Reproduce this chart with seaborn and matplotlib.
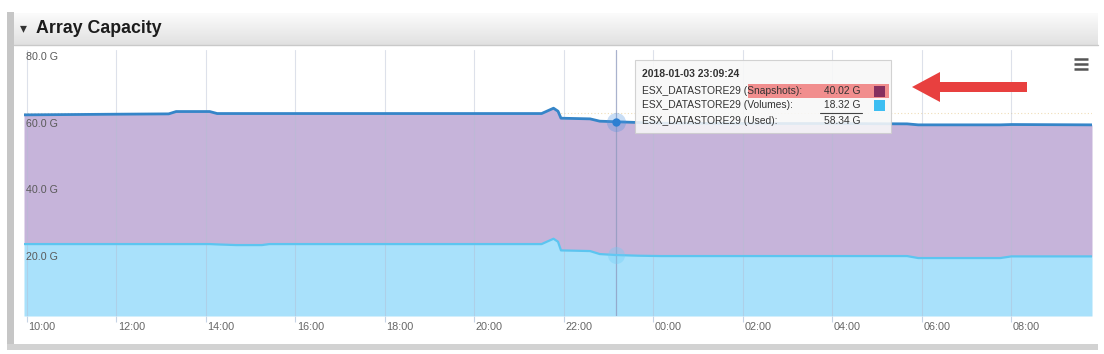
import numpy as np
import pandas as pd
import matplotlib
matplotlib.use("Agg")
import matplotlib.pyplot as plt
import matplotlib.dates as mdates
import matplotlib.transforms as mtransforms
from matplotlib.patches import Rectangle, FancyArrow
from matplotlib.colors import LinearSegmentedColormap
import seaborn as sns

# ---------------- data ----------------
times = [
    "2018-01-03 09:56", "2018-01-03 11:00", "2018-01-03 12:00", "2018-01-03 13:10",
    "2018-01-03 13:20", "2018-01-03 14:05", "2018-01-03 14:15", "2018-01-03 14:40",
    "2018-01-03 15:15", "2018-01-03 15:25", "2018-01-03 17:00", "2018-01-03 19:00",
    "2018-01-03 21:30", "2018-01-03 21:40", "2018-01-03 21:46", "2018-01-03 21:52",
    "2018-01-03 21:56", "2018-01-03 22:35", "2018-01-03 22:48", "2018-01-03 23:09",
    "2018-01-03 23:40", "2018-01-04 00:10", "2018-01-04 02:00", "2018-01-04 04:00",
    "2018-01-04 05:40", "2018-01-04 05:55", "2018-01-04 07:45", "2018-01-04 08:00",
    "2018-01-04 09:48",
]
used_gb = [
    60.4, 60.5, 60.6, 60.7,
    61.4, 61.4, 60.8, 60.8,
    60.8, 60.8, 60.8, 60.8,
    60.8, 61.8, 62.4, 61.5,
    59.4, 59.2, 58.5, 58.34,
    58.1, 57.9, 57.8, 57.8,
    57.7, 57.4, 57.4, 57.5,
    57.4,
]
volumes_gb = [
    21.6, 21.6, 21.6, 21.6,
    21.6, 21.6, 21.5, 21.3,
    21.3, 21.6, 21.6, 21.6,
    21.6, 22.6, 23.2, 22.3,
    19.7, 19.5, 18.6, 18.32,
    18.1, 18.0, 18.0, 18.0,
    18.0, 17.4, 17.4, 17.9,
    17.9,
]
y_ticks = [20, 40, 60, 80]
y_tick_labels = ["20.0 G", "40.0 G", "60.0 G", "80.0 G"]
x_start = "2018-01-03 09:56"
x_end = "2018-01-04 09:48"

chart_title = "Array Capacity"
tooltip_time = "2018-01-03 23:09:24"
tooltip_names = ["ESX_DATASTORE29 (Snapshots):", "ESX_DATASTORE29 (Volumes):",
                 "ESX_DATASTORE29 (Used):"]
tooltip_values = ["40.02 G", "18.32 G", "58.34 G"]
tooltip_used = 58.34
tooltip_volumes = 18.32

df = pd.DataFrame({"time": pd.to_datetime(times), "used": used_gb, "volumes": volumes_gb})

# ---------------- figure ----------------
sns.set_theme(style="white")
plt.rcParams['font.family'] = ['Liberation Sans', 'DejaVu Sans']

W, H = 1104, 354
fig = plt.figure(figsize=(W / 100, H / 100), dpi=100)

# background / panel chrome in pixel coordinates
bg = fig.add_axes([0, 0, 1, 1])
bg.set_xlim(0, W)
bg.set_ylim(H, 0)
bg.axis("off")
bg.add_patch(Rectangle((7, 12), 7, 338, fc="#c6c6c6", ec="none"))
bg.add_patch(Rectangle((7, 344), 1091, 6, fc="#d2d2d2", ec="none"))
hdr_cmap = LinearSegmentedColormap.from_list("hdr", ["#fbfbfb", "#e1e1e1"])
bg.imshow(np.linspace(0, 1, 50)[:, None], extent=[14, 1098, 45, 13], cmap=hdr_cmap,
          aspect="auto", zorder=1)
bg.plot([14, 1098], [45, 45], color="#c9c9c9", lw=1, zorder=2)
bg.set_xlim(0, W)
bg.set_ylim(H, 0)
bg.text(23, 28, "▾", fontsize=10, color="#333333", ha="center", va="center",
        family=["DejaVu Sans"], zorder=3)
bg.text(36, 28.5, chart_title, fontsize=12.8, fontweight="bold", color="#1c1c1c",
        ha="left", va="center", zorder=3)

# main plot
ax = fig.add_axes([24 / W, 1 - 316 / H, 1068 / W, (316 - 49.6) / H])
ax.set_facecolor("white")
ax.fill_between(df["time"], 0, df["volumes"], color="#a9e1fb", lw=0, zorder=1)
ax.fill_between(df["time"], df["volumes"], df["used"], color="#c6b4da", lw=0, zorder=1)
ax.axhline(60.9, ls=(0, (1, 2)), color="#e9cf9a", lw=0.8, alpha=0.7, zorder=0.9)
sns.lineplot(data=df, x="time", y="volumes", color="#5cc5f0", lw=1.6, ax=ax, zorder=3)
sns.lineplot(data=df, x="time", y="used", color="#3585c8", lw=2.0, ax=ax, zorder=3)

ax.set_xlim(pd.Timestamp(x_start), pd.Timestamp(x_end))
ax.set_ylim(0, 80)
ax.xaxis.set_major_locator(mdates.HourLocator(byhour=range(0, 24, 2)))
ax.xaxis.set_major_formatter(mdates.DateFormatter("%H:%M"))
ax.grid(axis="x", color="#b4bdd2", lw=0.8, alpha=0.45)
ax.grid(axis="y", visible=False)
ax.set_axisbelow("line")
ax.set_yticks([])
ax.set_xlabel("")
ax.set_ylabel("")
for s in ax.spines.values():
    s.set_visible(False)
ax.tick_params(axis="x", length=4, color="#c6d3e4", width=0.8, pad=0.5,
               labelsize=7.8, labelcolor="#666666", bottom=True)
offs = mtransforms.ScaledTranslation(1.5 / 100, 0, fig.dpi_scale_trans)
for lab in ax.get_xticklabels():
    lab.set_horizontalalignment("left")
    lab.set_transform(lab.get_transform() + offs)

ytrans = mtransforms.blended_transform_factory(ax.transAxes, ax.transData) + \
    mtransforms.ScaledTranslation(2 / 100, -7.4 / 100, fig.dpi_scale_trans)
for v, lab in zip(y_ticks, y_tick_labels):
    ax.text(0, v, lab, transform=ytrans, fontsize=7.7, color="#5a5a5a",
            ha="left", va="center", zorder=4)

# hover crosshair and markers
t_tip = pd.Timestamp(tooltip_time)
ax.axvline(t_tip, color="#8d98bd", lw=0.9, alpha=0.75, zorder=2.5)
ax.scatter([t_tip], [tooltip_used], s=190, color="#4a90e0", alpha=0.3, lw=0, zorder=4)
ax.scatter([t_tip], [tooltip_used], s=36, color="#2c7fd2", lw=0, zorder=5)
ax.scatter([t_tip], [tooltip_volumes], s=150, color="#6fcdf6", alpha=0.35, lw=0, zorder=4)

# foreground overlay (tooltip, arrow, menu icon) in pixel coordinates
fg = fig.add_axes([0, 0, 1, 1])
fg.set_xlim(0, W)
fg.set_ylim(H, 0)
fg.axis("off")
fg.patch.set_alpha(0)
fg.add_patch(Rectangle((635, 60), 256, 73, fc="#f8f8f8", ec="#cdcdcd", lw=0.8,
                       alpha=0.88, zorder=1))
fg.add_patch(Rectangle((748, 84), 141, 14, fc="#f07c7c", ec="none", alpha=0.85, zorder=2))
fg.text(642, 74, tooltip_time, fontsize=7.5, fontweight="bold", color="#333333",
        ha="left", va="center", zorder=3)
rows_y = [91.5, 105.5, 120.5]
swatches = ["#86305f", "#3dbef2", None]
for yy, name, val, sw in zip(rows_y, tooltip_names, tooltip_values, swatches):
    fg.text(642, yy, name, fontsize=7.4, color="#333333", ha="left", va="center", zorder=3)
    fg.text(861, yy, val, fontsize=7.4, color="#333333", ha="right", va="center", zorder=3)
    if sw:
        fg.add_patch(Rectangle((874, yy - 5.5), 11, 11, fc=sw, ec="none", zorder=3))
fg.plot([820, 862], [112.5, 112.5], color="#444444", lw=0.8, zorder=3)

fg.add_patch(FancyArrow(1027, 87, -115, 0, width=10, head_width=30, head_length=28,
                        length_includes_head=True, fc="#e8403f", ec="none", zorder=4))
for yy in [59, 64, 69]:
    fg.plot([1074, 1088], [yy, yy], color="#555555", lw=1.8, solid_capstyle="butt", zorder=4)

fig.savefig("out.png", dpi=100)
